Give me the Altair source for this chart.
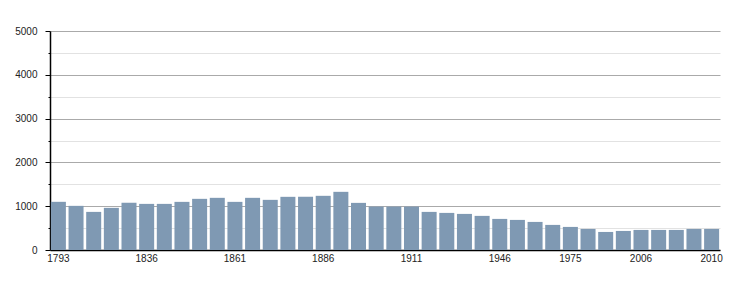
import altair as alt
import pandas as pd

years = [1793, 1800, 1806, 1821, 1831, 1836, 1841, 1846, 1851, 1856,
         1861, 1866, 1872, 1876, 1881, 1886, 1891, 1896, 1901, 1906,
         1911, 1921, 1926, 1931, 1936, 1946, 1954, 1962, 1968, 1975,
         1982, 1990, 1999, 2006, 2007, 2008, 2009, 2010]
population = [1100, 1008, 870, 962, 1076, 1053, 1053, 1099, 1168, 1191,
              1099, 1191, 1145, 1214, 1214, 1237, 1328, 1076, 992, 992,
              992, 870, 847, 824, 779, 710, 687, 641, 573, 527,
              481, 412, 435, 458, 458, 458, 481, 481]
x_labels = [1793, 1836, 1861, 1886, 1911, 1946, 1975, 2006, 2010]
y_ticks = [0, 500, 1000, 1500, 2000, 2500, 3000, 3500, 4000, 4500, 5000]

df = pd.DataFrame({"year": years, "pop": population})

chart = alt.Chart(df).mark_bar(color="#7f99b3").encode(
    x=alt.X("year:O",
            scale=alt.Scale(paddingInner=0.15, paddingOuter=0.05),
            axis=alt.Axis(values=x_labels, title=None, labelAngle=0,
                          ticks=False, labelPadding=3, domainColor="#000",
                          domainWidth=1.5, labelFontSize=10, labelColor="#222",
                          labelFont="Liberation Sans")),
    y=alt.Y("pop:Q",
            scale=alt.Scale(domain=[0, 5000], nice=False),
            axis=alt.Axis(values=y_ticks, title=None, format="d",
                          labelExpr="datum.value % 1000 === 0 ? datum.label : ''",
                          gridColor={"condition": {"test": "datum.value % 1000 === 0", "value": "#aaaaaa"}, "value": "#e2e2e2"},
                          tickSize={"condition": {"test": "datum.value % 1000 === 0", "value": 5}, "value": 2},
                          tickColor="#000", domainColor="#000", domainWidth=1.5,
                          labelPadding=8, labelFontSize=10, labelColor="#222",
                          labelFont="Liberation Sans")),
).properties(
    width=670, height=219,
    autosize="none",
    padding={"left": 50, "top": 31, "right": 30, "bottom": 50},
).configure_view(stroke=None)

chart.save("out.html", embed_options={"renderer": "svg", "actions": False})
